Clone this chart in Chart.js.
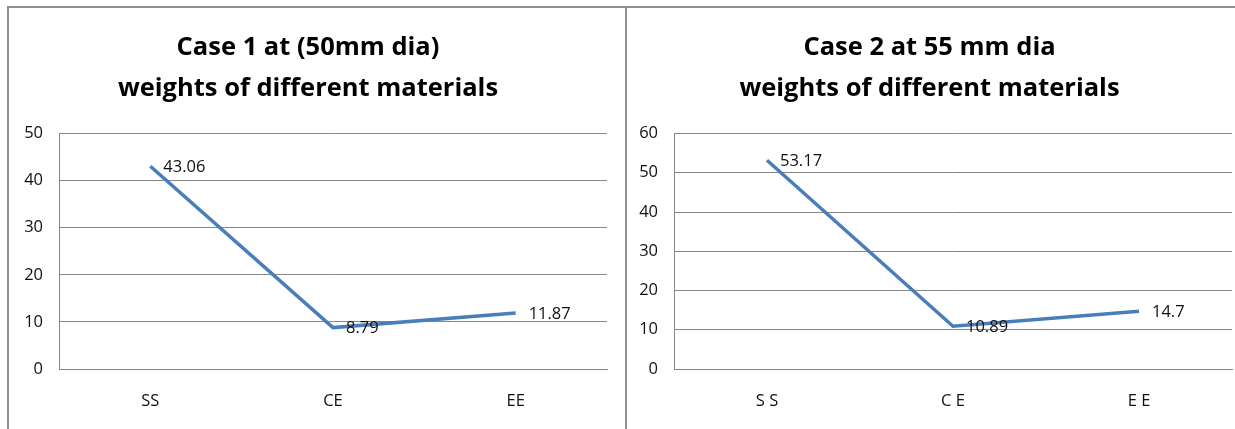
<!DOCTYPE html>
<html>
<head>
<meta charset="utf-8">
<script src="https://cdn.jsdelivr.net/npm/chart.js@4/dist/chart.umd.min.js"></script>
<style>
  html, body { margin: 0; padding: 0; background: #fff; }
  body { width: 1235px; height: 429px; position: relative; overflow: hidden; }
  .frame-top { position: absolute; left: 7px; top: 6px; width: 1228px; height: 2px; background: #8f8f8f; }
  .frame-left { position: absolute; left: 7px; top: 6px; width: 2px; height: 423px; background: #8f8f8f; }
  .frame-mid { position: absolute; left: 625px; top: 6px; width: 2px; height: 423px; background: #8f8f8f; }
  .panel { position: absolute; top: 8px; height: 421px; }
  #p1 { left: 9px; width: 616px; }
  #p2 { left: 627px; width: 608px; }
</style>
</head>
<body>
<div class="frame-top"></div>
<div class="frame-left"></div>
<div class="frame-mid"></div>
<div class="panel" id="p1"><canvas id="c1"></canvas></div>
<div class="panel" id="p2"><canvas id="c2"></canvas></div>
<script>
// Weights of the three materials for each shaft diameter
const case1Categories = ['SS', 'CE', 'EE'];
const case1Weights = [43.06, 8.79, 11.87];
const case1Ticks = { min: 0, max: 50, step: 10 };

const case2Categories = ['S S', 'C E', 'E E'];
const case2Weights = [53.17, 10.89, 14.7];
const case2Ticks = { min: 0, max: 60, step: 10 };

const case1Title = ['Case 1 at (50mm dia)', 'weights of different materials'];
const case2Title = ['Case 2 at 55 mm dia', 'weights of different materials'];

const FONT = '"Open Sans", "Liberation Sans", sans-serif';
const GRID = '#878787';
const LINE = '#4A7EBB';

// Writes each point's value just to the right of the point
const valueLabels = {
  id: 'valueLabels',
  afterDatasetsDraw(chart) {
    const ctx = chart.ctx;
    const ds = chart.data.datasets[0];
    const meta = chart.getDatasetMeta(0);
    ctx.save();
    ctx.font = '16.5px ' + FONT;
    ctx.fillStyle = '#111';
    ctx.textAlign = 'left';
    ctx.textBaseline = 'middle';
    meta.data.forEach((pt, i) => {
      ctx.fillText(String(ds.data[i]), pt.x + 13, pt.y + 1);
    });
    ctx.restore();
  }
};

function makeChart(id, labels, values, ticks, title, yWidth, rightPad) {
  return new Chart(document.getElementById(id), {
    type: 'line',
    data: {
      labels: labels,
      datasets: [{
        data: values,
        borderColor: LINE,
        borderWidth: 3.5,
        pointRadius: 0,
        pointHoverRadius: 0,
        tension: 0,
        fill: false
      }]
    },
    options: {
      responsive: true,
      maintainAspectRatio: false,
      animation: false,
      events: [],
      layout: { padding: { left: 0, right: rightPad, top: 0, bottom: 0 } },
      plugins: {
        legend: { display: false },
        tooltip: { enabled: false },
        title: {
          display: true,
          text: title,
          color: '#000',
          font: { family: FONT, size: 25.5, weight: 'bold', lineHeight: '41px' },
          padding: { top: 19.5, bottom: 24 }
        }
      },
      scales: {
        x: {
          offset: true,
          grid: { display: false, drawTicks: false },
          border: { display: true, color: GRID, width: 1 },
          ticks: { color: '#111', padding: 22, font: { family: FONT, size: 16.5 } },
          afterFit(scale) { scale.height = 60; }
        },
        y: {
          min: ticks.min,
          max: ticks.max,
          grid: { color: GRID, lineWidth: 1, drawTicks: false },
          border: { display: true, color: GRID, width: 1 },
          ticks: { stepSize: ticks.step, color: '#111', padding: 16, font: { family: FONT, size: 16.5 } },
          afterFit(scale) { scale.width = yWidth; }
        }
      }
    },
    plugins: [valueLabels]
  });
}

makeChart('c1', case1Categories, case1Weights, case1Ticks, case1Title, 50, 18);
makeChart('c2', case2Categories, case2Weights, case2Ticks, case2Title, 47, 3);
</script>
</body>
</html>
